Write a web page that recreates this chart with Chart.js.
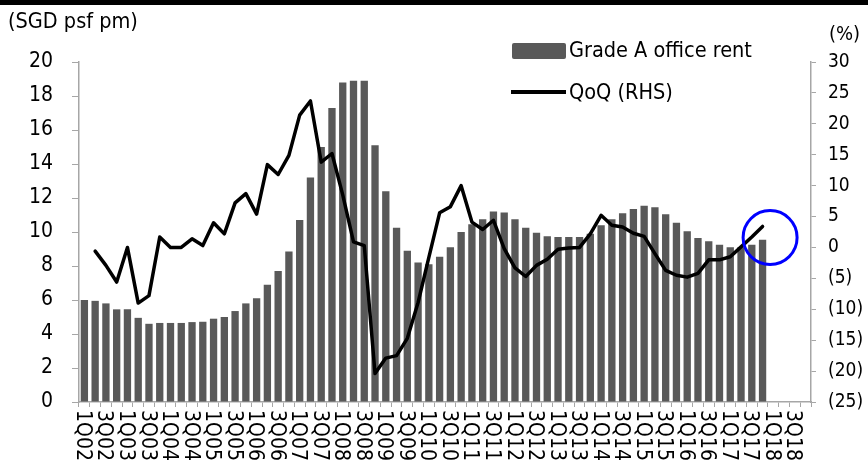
<!DOCTYPE html>
<html><head><meta charset="utf-8">
<script src="https://cdn.jsdelivr.net/npm/chart.js@4/dist/chart.umd.min.js"></script>
<style>
html,body{margin:0;padding:0;background:#fff;}
#wrap{position:relative;width:868px;height:466px;overflow:hidden;background:#fff;}
#topbar{position:absolute;left:0;top:0;width:868px;height:5px;background:#000;}
canvas{position:absolute;left:0;top:0;}
.txt{position:absolute;font-family:"DejaVu Sans Condensed","DejaVu Sans",sans-serif;font-size:21.5px;color:#000;white-space:nowrap;line-height:22px;}
.box{position:absolute;left:512px;top:43px;width:54px;height:16px;background:#595959;border-radius:2px;}
.lin{position:absolute;left:511px;top:90px;width:55px;height:4px;background:#000;}
</style></head><body>
<div id="wrap">
<canvas id="c" width="868" height="466"></canvas>
<div id="topbar"></div>
<div class="txt" style="left:8px;top:10px">(SGD psf pm)</div>
<div class="txt" style="left:829px;top:22px;font-size:20px">(%)</div>
<div class="box"></div>
<div class="txt" style="left:569px;top:39px">Grade A office rent</div>
<div class="lin"></div>
<div class="txt" style="left:569px;top:81px">QoQ (RHS)</div>
</div>
<script>
const quarters = ['1Q02','2Q02','3Q02','4Q02','1Q03','2Q03','3Q03','4Q03','1Q04','2Q04','3Q04','4Q04',
'1Q05','2Q05','3Q05','4Q05','1Q06','2Q06','3Q06','4Q06','1Q07','2Q07','3Q07','4Q07','1Q08','2Q08','3Q08','4Q08',
'1Q09','2Q09','3Q09','4Q09','1Q10','2Q10','3Q10','4Q10','1Q11','2Q11','3Q11','4Q11','1Q12','2Q12','3Q12','4Q12',
'1Q13','2Q13','3Q13','4Q13','1Q14','2Q14','3Q14','4Q14','1Q15','2Q15','3Q15','4Q15','1Q16','2Q16','3Q16','4Q16',
'1Q17','2Q17','3Q17','4Q17','1Q18','2Q18','3Q18','4Q18'];

// Grade A office rent, SGD psf pm (left axis)
const rent = [6.0,5.95,5.8,5.45,5.45,4.95,4.6,4.65,4.65,4.65,4.7,4.72,
4.9,5.0,5.35,5.8,6.1,6.9,7.7,8.85,10.7,13.2,15.0,17.3,18.8,18.9,18.9,15.1,
12.4,10.25,8.9,8.2,8.1,8.55,9.1,10.0,10.45,10.75,11.2,11.15,10.75,10.25,9.95,9.75,
9.7,9.7,9.7,9.9,10.4,10.75,11.1,11.35,11.55,11.45,11.05,10.55,10.05,9.65,9.45,9.25,
9.1,9.1,9.25,9.55];

// QoQ change, % (right axis)
const qoq = [null,-0.6,-2.9,-5.6,0.0,-9.0,-7.8,1.7,0.0,0.0,1.4,0.3,
4.0,2.2,7.2,8.7,5.4,13.4,11.8,14.9,21.4,23.7,13.8,15.2,8.5,0.9,0.3,-20.4,
-17.9,-17.5,-14.7,-8.9,-1.6,5.6,6.6,10.0,4.1,2.9,4.4,-0.2,-3.3,-4.7,-2.9,-1.9,
-0.3,-0.1,0.0,2.2,5.2,3.6,3.3,2.3,1.8,-1.0,-3.7,-4.5,-4.8,-4.2,-2.0,-2.0,
-1.5,0.1,1.7,3.4];

// every other quarter is labelled on the axis
const axisLabels = ['1Q02','3Q02','1Q03','3Q03','1Q04','3Q04','1Q05','3Q05','1Q06','3Q06','1Q07','3Q07',
'1Q08','3Q08','1Q09','3Q09','1Q10','3Q10','1Q11','3Q11','1Q12','3Q12','1Q13','3Q13','1Q14','3Q14',
'1Q15','3Q15','1Q16','3Q16','1Q17','3Q17','1Q18','3Q18'];

// highlight circle anchor: (category position, RHS value)
const highlightAt = {x: 63.7, y: 1.6};

const FONT = '"DejaVu Sans Condensed","DejaVu Sans",sans-serif';
const AXIS = '#a6a6a6';

const xLabelPlugin = {
  id: 'xLabels',
  afterDraw(chart) {
    const {ctx} = chart; const x = chart.scales.x;
    ctx.save();
    ctx.font = '21px ' + FONT;
    ctx.fillStyle = '#000';
    ctx.textAlign = 'left';
    ctx.textBaseline = 'middle';
    axisLabels.forEach(lbl => {
      const i = quarters.indexOf(lbl);
      const px = x.getPixelForValue(i) - 2;
      ctx.save();
      ctx.translate(px, x.top + 8);
      ctx.rotate(Math.PI / 2);
      ctx.fillText(lbl, 0, 0);
      ctx.restore();
    });
    ctx.restore();
  }
};

const circlePlugin = {
  id: 'circle',
  afterDatasetsDraw(chart) {
    const {ctx} = chart;
    const cx = chart.scales.x.getPixelForValue(highlightAt.x);
    const cy = chart.scales.y1.getPixelForValue(highlightAt.y);
    ctx.save();
    ctx.beginPath();
    ctx.arc(cx, cy, 27, 0, Math.PI * 2);
    ctx.lineWidth = 3;
    ctx.strokeStyle = '#0000ff';
    ctx.stroke();
    ctx.restore();
  }
};

new Chart(document.getElementById('c'), {
  data: {
    labels: quarters,
    datasets: [
      {type: 'line', label: 'QoQ (RHS)', data: qoq, yAxisID: 'y1', borderColor: '#000', backgroundColor: '#000',
       borderWidth: 3.5, pointRadius: 0, tension: 0, borderJoinStyle: 'round', borderCapStyle: 'round', order: 0},
      {type: 'bar', label: 'Grade A office rent', data: rent, yAxisID: 'y', backgroundColor: '#595959',
       barPercentage: 0.68, categoryPercentage: 1.0, order: 1}
    ]
  },
  options: {
    responsive: false, animation: false, devicePixelRatio: 1,
    layout: {padding: {top: 62, left: 0, right: 0, bottom: 0}},
    plugins: {legend: {display: false}, tooltip: {enabled: false}},
    scales: {
      x: {
        ticks: {display: false},
        grid: {offset: true, drawOnChartArea: false, drawTicks: true, tickLength: 5, color: AXIS, lineWidth: 1},
        border: {color: AXIS, width: 1.5},
        afterFit(s) { s.height = 64; }
      },
      y: {
        position: 'left', min: 0, max: 20,
        ticks: {stepSize: 2, padding: 19, color: '#000', font: {family: FONT, size: 21}},
        grid: {drawOnChartArea: false, tickLength: 7, color: AXIS},
        border: {color: AXIS, width: 1.5},
        afterFit(s) { s.width = 79; }
      },
      y1: {
        position: 'right', min: -25, max: 30,
        ticks: {stepSize: 5, padding: 12, color: '#000', font: {family: FONT, size: 19},
                callback: v => v < 0 ? '(' + (-v) + ')' : String(v)},
        grid: {drawOnChartArea: false, tickLength: 5, color: AXIS},
        border: {color: AXIS, width: 1.5},
        afterFit(s) { s.width = 57; }
      }
    }
  },
  plugins: [xLabelPlugin, circlePlugin]
});
</script>
</body></html>
